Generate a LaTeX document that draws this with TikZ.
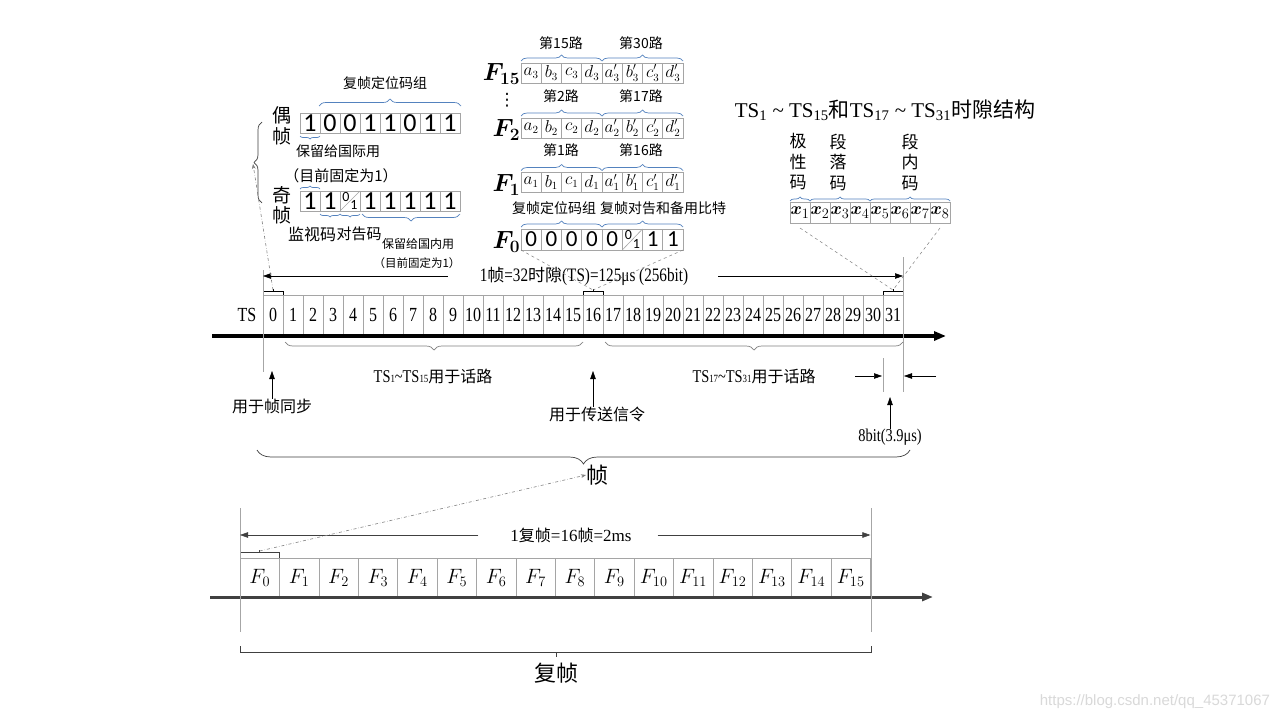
\documentclass[tikz,border=0pt]{standalone}
\usepackage{amsmath}
\usepackage{fontspec}
\setmainfont{Liberation Serif}
\newfontfamily\cjk{Noto Sans CJK SC}
\newfontfamily\cond{Liberation Serif}[FakeStretch=0.8]
\newfontfamily\lsans{Carlito}
\newfontfamily\wmfont{Liberation Sans}
\newfontfamily\dejavu{DejaVu Sans}
\usetikzlibrary{arrows.meta,decorations.pathreplacing,calc}
\newcommand\zh[1]{{\cjk #1}}
\newcommand\sz[1]{\fontsize{#1}{#1}\selectfont}
\definecolor{bracecol}{RGB}{84,130,190}
\definecolor{cellgray}{RGB}{165,165,165}
\definecolor{dgray}{RGB}{64,64,64}
\tikzset{
  cellbox/.style={draw=cellgray, line width=0.6pt, minimum width=20pt, minimum height=20pt, inner sep=0pt, outer sep=0pt},
  tscell/.style={cellbox, minimum height=40pt, font=\cond\sz{20}},
  fcell/.style={cellbox, minimum width=39.4pt, minimum height=39pt, font=\sz{21}},
  bitcell/.style={cellbox, font=\lsans\sz{26}},
  f0cell/.style={cellbox, minimum width=20.25pt, minimum height=21pt, font=\lsans\sz{23}},
  abcell/.style={cellbox, minimum width=20.25pt, minimum height=20pt, font=\sz{16}},
  xcell/.style={cellbox, minimum height=21pt, font=\sz{19}},
  lbl/.style={inner sep=0pt, outer sep=0pt},
  zh/.style={lbl, font=\cjk\sz{#1}},
  zhv/.style={lbl, align=center, font=\cjk\fontsize{17}{20.5}\selectfont},
  bbrace/.style={draw=bracecol, line width=0.7pt, decorate, decoration={brace, amplitude=#1}},
  gbrace/.style={draw, line width=0.7pt, decorate, decoration={brace, amplitude=#1}},
  arr/.style={-{Triangle[length=8pt,width=5.5pt]}, line width=0.5pt},
  dline/.style={gray, dashed, line width=0.5pt},
  ddline/.style={gray, dash dot, line width=0.6pt},
  guide/.style={gray!70, line width=0.6pt},
}
\begin{document}
\begin{tikzpicture}[x=1pt,y=-1pt]
\useasboundingbox (0,0) rectangle (1280,720);
\fill[white] (0,0) rectangle (1280,720);

% ================= TS row =================
\node[lbl, font=\cond\sz{20}] (tslbl) at (247,315) {TS};
\foreach \i in {0,...,31} \node[tscell] (ts\i) at ({273+20*\i},315) {\i};
\coordinate (axL) at (212,336);
\coordinate (axR) at (946,336);
\draw[line width=3.5pt, -{Triangle[length=12pt,width=9pt]}] (axL) -- (axR);
\foreach \k in {0,16,31} {
  \draw[line width=0.6pt] (ts\k.north west) -- ++(0,-4) -| (ts\k.north east);
  \draw[line width=0.6pt] ($(ts\k.north)+(0,-4)$) -- ++(0,-2);
  \coordinate (br\k) at ($(ts\k.north)+(0,-5)$);
}
\draw[guide] (263,270) -- (263,372);
\draw[guide] (903,257) -- (903,392);
\draw[guide] (883,358) -- (883,392);

\node[lbl, font=\cond\sz{19}] (framelbl) at (584,276) {1\zh{\sz{17}帧}=32\zh{\sz{17}时隙}(TS)=125μs (256bit)};
\draw[arr] ([xshift=-32pt]framelbl.west) -- (framelbl.west -| ts0.west);
\draw[arr] ([xshift=30pt]framelbl.east) -- (framelbl.east -| ts31.east);

\draw[gbrace=8pt, gray] (583,342) -- (285,342);
\draw[gbrace=8pt, gray] (903,342) -- (605,342);
\node[lbl, font=\cond\sz{18}] (tsa) at (433,376) {TS{\sz{11}1}\textasciitilde TS{\sz{11}15}\zh{\sz{16}用于话路}};
\node[lbl, font=\cond\sz{18}] (tsb) at (754,376) {TS{\sz{11}17}\textasciitilde TS{\sz{11}31}\zh{\sz{16}用于话路}};

\node[zh=16] (sync) at (272,406) {用于帧同步};
\coordinate (syncT) at (272,371);
\draw[arr] (sync.north) -- (syncT);
\node[zh=16] (sig) at (597,414) {用于传送信令};
\coordinate (sigT) at (593,371);
\draw[arr] (sig.north -| sigT) -- (sigT);
\node[lbl, font=\cond\sz{18}] (bit8) at (890,437) {8bit(3.9μs)};
\coordinate (bitT) at (890,397);
\draw[arr] (bit8.north) -- (bitT);
\coordinate (b8a) at (855,376); \coordinate (b8b) at (882,376);
\coordinate (b8c) at (936,376); \coordinate (b8d) at (904,376);
\draw[arr] (b8a) -- (b8b);
\draw[arr] (b8c) -- (b8d);

\draw[gbrace=14pt, dgray] (910,450) -- (257,450);
\node[zh=22] (zhen) at (597,475) {帧};

% ================= multiframe =================
\foreach \i in {0,...,15} \node[fcell] (mf\i) at ({240+39.4*(\i+0.5)},577.5) {$F_{\i}$};
\coordinate (mfL) at (210,597);
\coordinate (mfR) at (933,597);
\draw[line width=3pt, dgray, -{Triangle[length=11pt,width=8pt]}] (mfL) -- (mfR);
\draw[line width=0.6pt, dgray] (mf0.north west) -- ++(0,-6) -| (mf0.north east);
\draw[line width=0.6pt, dgray] ($(mf0.north)+(0,-6)$) -- ++(0,-2);
\coordinate (brmf) at ($(mf0.north)+(0,-7)$);
\draw[guide] (240,508) -- (240,632);
\draw[guide] (871,508) -- (871,632);
\node[lbl, font=\sz{17}] (mflbl) at (571,535) {1\zh{\sz{16}复帧}=16\zh{\sz{16}帧}=2ms};
\draw[arr, dgray] ([xshift=-32pt]mflbl.west) -- (mflbl.west -| mf0.west);
\draw[arr, dgray] ([xshift=26pt]mflbl.east) -- (mflbl.east -| mf15.east);
\draw[dgray, line width=0.8pt] (240,646) -- (240,652) -- (871,652) -- (871,646);
\draw[dgray, line width=0.8pt] (556,652) -- (556,657);
\node[zh=22] (fuzhen) at (556,673) {复帧};
\draw[ddline, -{Stealth[length=5pt]}] (brmf) -- (zhen.west);

% ================= F rows (top middle) =================
\foreach \t [count=\i from 0] in {a_3,b_3,c_3,d_3,a'_3,b'_3,c'_3,d'_3}
  \node[abcell] (f15c\i) at ({521+20.25*(\i+0.5)},73) {$\t$};
\foreach \t [count=\i from 0] in {a_2,b_2,c_2,d_2,a'_2,b'_2,c'_2,d'_2}
  \node[abcell] (f2c\i) at ({521+20.25*(\i+0.5)},128) {$\t$};
\foreach \t [count=\i from 0] in {a_1,b_1,c_1,d_1,a'_1,b'_1,c'_1,d'_1}
  \node[abcell] (f1c\i) at ({521+20.25*(\i+0.5)},182.5) {$\t$};
\foreach \t [count=\i from 0] in {0,0,0,0,0,{},1,1}
  \node[f0cell] (f0c\i) at ({521+20.25*(\i+0.5)},239.5) {\t};
\draw[cellgray, line width=0.6pt] (f0c5.south west) -- (f0c5.north east);
\node[lbl, font=\lsans\sz{14}] (f0c5a) at ($(f0c5.center)+(-4,-4)$) {0};
\node[lbl, font=\lsans\sz{14}] (f0c5b) at ($(f0c5.center)+(4,4)$) {1};

\node[lbl, font=\sz{23}, anchor=east] (F15) at (520,74) {$\boldsymbol{F_{15}}$};
\node[lbl, font=\sz{23}, anchor=east] (F2) at (520,130) {$\boldsymbol{F_{2}}$};
\node[lbl, font=\sz{23}, anchor=east] (F1) at (520,185) {$\boldsymbol{F_{1}}$};
\node[lbl, font=\sz{23}, anchor=east] (F0) at (520,242) {$\boldsymbol{F_{0}}$};
\node[lbl, font=\dejavu\sz{17}] (vd) at (507,100) {⋮};

\foreach \r/\lab/\labb/\ly in {f15/第15路/第30路/43, f2/第2路/第17路/96, f1/第1路/第16路/150} {
  \draw[bbrace=6pt] ($(\r c0.north west)+(0,-2)$) -- ($(\r c3.north east)+(0,-2)$);
  \draw[bbrace=6pt] ($(\r c4.north west)+(0,-2)$) -- ($(\r c7.north east)+(0,-2)$);
  \node[zh=14] (\r la) at (561,\ly) {\lab};
  \node[zh=14] (\r lb) at (641,\ly) {\labb};
}
\draw[bbrace=6pt] ($(f0c0.north west)+(0,-2)$) -- ($(f0c3.north east)+(0,-2)$);
\draw[bbrace=6pt] ($(f0c4.north west)+(0,-2)$) -- ($(f0c7.north east)+(0,-2)$);
\node[zh=14] (f0la) at (554,208) {复帧定位码组};
\node[zh=14] (f0lb) at (663,208) {复帧对告和备用比特};

\draw[dline] (f0c0.south west) -- (br16);
\draw[dline] (f0c7.south east) -- (br16);

% ================= even / odd frames (top left) =================
\foreach \b [count=\i from 0] in {1,0,0,1,1,0,1,1} \node[bitcell] (e\i) at ({310+20*\i},123) {\b};
\foreach \b [count=\i from 0] in {1,1,{},1,1,1,1,1} \node[bitcell] (o\i) at ({310+20*\i},201) {\b};
\draw[cellgray, line width=0.6pt] (o2.south west) -- (o2.north east);
\node[lbl, font=\lsans\sz{14}] (o2a) at ($(o2.center)+(-4,-4)$) {0};
\node[lbl, font=\lsans\sz{14}] (o2b) at ($(o2.center)+(4,4)$) {1};

\node[zh=19] (ou) at (282,115) {偶};
\node[zh=19] (zhA) at (282,136) {帧};
\node[zh=19] (qi) at (282,195) {奇};
\node[zh=19] (zhB) at (282,215) {帧};

\draw[bbrace=7pt] (319,106) -- (461,106);
\node[zh=14] (fzdw) at (385,83) {复帧定位码组};
\draw[bbrace=3pt] (320,136) -- (300,136);
\node[zh=14] (bl1) at (338,151) {保留给国际用};
\node[zh=15] (gd1) at (341,176) {（目前固定为1）};
\draw[bbrace=3pt] (300,189) -- (320,189);
\draw[bbrace=3pt] (340,214) -- (320,214);
\draw[bbrace=3pt] (360,214) -- (340,214);
\draw[bbrace=7pt] (460,214) -- (362,214);
\node[zh=16] (jsm) at (312,234) {监视码};
\node[zh=15] (dgm) at (359,234) {对告码};
\node[zh=12] (bl2) at (418,244) {保留给国内用};
\node[zh=11.5] (gd2) at (417,263) {（目前固定为1）};

\draw[gbrace=8pt, black!75] (262,203) -- (262,122);
\coordinate (eotip) at (253,164);
\draw[ddline, -{Stealth[length=5pt]}] (br0) -- (eotip);

% ================= time slot structure (top right) =================
\node[lbl, font=\sz{21}] (title) at (885,110) {TS\textsubscript{1} \textasciitilde{} TS\textsubscript{15}\zh{和}TS\textsubscript{17} \textasciitilde{} TS\textsubscript{31}\zh{时隙结构}};
\node[zhv] (jxm) at (798,162) {极\\性\\码};
\node[zhv] (dlm) at (838,162) {段\\落\\码};
\node[zhv] (dnm) at (910,162) {段\\内\\码};
\foreach \i in {1,...,8} \node[xcell] (x\i) at ({790+20*(\i-0.5)},212.5) {$\boldsymbol{x}_{\i}$};
\draw[bbrace=4pt] ($(x1.north west)+(0,-1)$) -- ($(x1.north east)+(0,-1)$);
\draw[bbrace=4pt] ($(x2.north west)+(0,-1)$) -- ($(x4.north east)+(0,-1)$);
\draw[bbrace=4pt] ($(x5.north west)+(0,-1)$) -- ($(x8.north east)+(0,-1)$);
\draw[dline] ([yshift=-5pt]x1.south) -- (br31);
\draw[dline] ([yshift=-5pt]x8.south) -- (br31);

% watermark
\node[lbl, font=\wmfont\sz{15}, text=gray!30, anchor=east] (wm) at (1270,702) {https://blog.csdn.net/qq\_45371067};
\end{tikzpicture}
\end{document}
